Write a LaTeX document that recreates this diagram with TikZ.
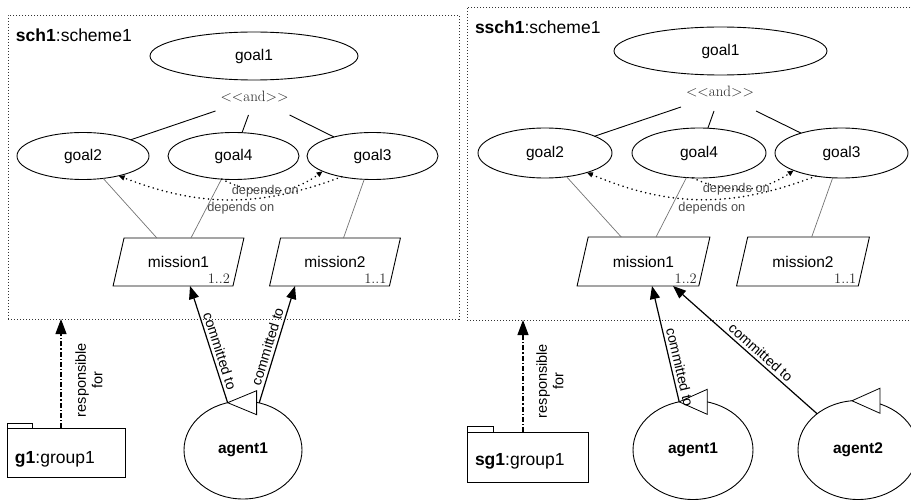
\documentclass[tikz,border=0pt]{standalone}
\usepackage{fontspec}
\setsansfont{Liberation Sans}
\usetikzlibrary{shapes.geometric,arrows.meta}

\begin{document}
\begin{tikzpicture}[x=1pt,y=-1pt,
  every node/.style={inner sep=0pt, outer sep=0pt},
  schbox/.style={draw=black!80, line width=0.9pt, dash pattern=on 1.1pt off 1.9pt, anchor=north west},
  titletxt/.style={anchor=west, font=\sffamily\fontsize{17.5}{20}\selectfont},
  goal/.style={ellipse, draw, line width=0.9pt, font=\sffamily\fontsize{15.5}{18}\selectfont},
  andtxt/.style={text=black!85, font=\fontsize{15}{17}\selectfont},
  andline/.style={line width=0.9pt},
  mline/.style={draw=black!55, line width=0.7pt},
  mission/.style={trapezium, trapezium left angle=61.6, trapezium right angle=118.4,
    trapezium stretches=true, draw, line width=0.9pt, minimum width=131pt, minimum height=48pt,
    font=\sffamily\fontsize{15.5}{18}\selectfont},
  card/.style={anchor=base east, text=black!85, font=\fontsize{14.5}{16}\selectfont},
  dep/.style={line width=1.7pt, dash pattern=on 0.1pt off 4.6pt, line cap=round,
    -{Triangle[length=6pt,width=5pt]}},
  deplbl/.style={text=black!70, font=\sffamily\fontsize{12.8}{15}\selectfont},
  pkg/.style={draw, line width=0.9pt},
  pkglbl/.style={anchor=west, font=\sffamily\fontsize{17.5}{20}\selectfont},
  resp/.style={line width=1.1pt, dash pattern=on 5pt off 2pt on 1.2pt off 2pt,
    -{Triangle[length=15pt,width=11pt]}},
  resplbl/.style={rotate=90, align=center, font=\sffamily\fontsize{14.5}{16.5}\selectfont},
  agent/.style={ellipse, draw, line width=0.9pt, font=\sffamily\bfseries\fontsize{15.5}{18}\selectfont},
  port/.style={draw, line width=0.8pt, fill=white},
  commit/.style={line width=1.2pt, -{Triangle[length=13pt,width=10pt]}},
  clbl/.style={sloped, above=3.5pt, font=\sffamily\fontsize{14}{16}\selectfont}
]
\clip (0,0) rectangle (911,500);

% ---------------- scheme sch1 ----------------
\node[schbox, minimum width=451pt, minimum height=304pt] (schL) at (8,15) {};
\node[titletxt] (schLtitle) at (16,35) {\textbf{sch1}:scheme1};

\node[goal, minimum width=208pt, minimum height=48pt] (g1L) at (254,56) {goal1};
\node[andtxt] (andL) at (254.5,97) {<\kern0pt<and>\kern0pt>};
\coordinate (andL1) at ([shift={(-39,14)}]andL.center);
\coordinate (andL2) at ([shift={(-6,18)}]andL.center);
\coordinate (andL3) at ([shift={(35,18)}]andL.center);

\node[goal, minimum width=132pt, minimum height=47pt] (g2L) at (83,156) {goal2};
\node[goal, minimum width=131pt, minimum height=47pt] (g4L) at (233.5,156) {goal4};
\node[goal, minimum width=131pt, minimum height=47pt] (g3L) at (372.5,156) {goal3};

\draw[andline] (andL1) -- (g2L);
\draw[andline] (andL2) -- (g4L);
\draw[andline] (andL3) -- (g3L);

\node[mission] (m1L) at (178.5,262) {mission1};
\node[mission] (m2L) at (335,262) {mission2};
\node[card] (m1Lcard) at ([shift={(-3,-2.5)}]m1L.bottom right corner) {1..2};
\node[card] (m2Lcard) at ([shift={(-3,-2.5)}]m2L.bottom right corner) {1..1};

\draw[mline] (g2L) -- (m1L);
\draw[mline] (g4L) -- (m1L);
\draw[mline] (g3L) -- (m2L);

\draw[dep] (g3L.214) to[bend left=21] node[pos=0.45, below=3pt, deplbl] {depends on} (g2L.-29);
\draw[dep] (g4L.243) to[bend right=32] node[pos=0.42, deplbl] {depends on} (g3L.197);

% ---------------- group g1 and agent ----------------
\node[pkg, minimum width=118pt, minimum height=49pt] (grpL) at (66,452.5) {};
\node[pkg, minimum width=25pt, minimum height=5pt, anchor=south west] (grpLtab) at (grpL.north west) {};
\node[pkglbl] (grpLlbl) at (15,459) {\textbf{g1}:group1};
\coordinate (respL) at ([xshift=-5pt]grpL.north);
\draw[resp] (respL) -- (respL |- schL.south);
\node[resplbl] (respLlbl) at (89,380) {responsible\\for};

\node[agent, minimum width=118pt, minimum height=98pt] (ag1L) at (243,450) {agent1};
\draw[port] (ag1L.108) -- ++(29,-12) -- ++(0,24) -- cycle;
\draw[commit] (ag1L.108) -- node[pos=0.42, clbl] {committed to} ([xshift=11.5pt]m1L.south);
\draw[commit] (ag1L.71) -- node[pos=0.46, clbl] {committed to} ([xshift=-40pt]m2L.south);

% ---------------- scheme ssch1 ----------------
\node[schbox, minimum width=470pt, minimum height=313pt] (schR) at (467,7) {};
\node[titletxt] (schRtitle) at (475,27) {\textbf{ssch1}:scheme1};

\node[goal, minimum width=213pt, minimum height=48pt] (g1R) at (720.5,51) {goal1};
\node[andtxt] (andR) at (720,92) {<\kern0pt<and>\kern0pt>};
\coordinate (andR1) at ([shift={(-39,15)}]andR.center);
\coordinate (andR2) at ([shift={(-6,19)}]andR.center);
\coordinate (andR3) at ([shift={(36,19)}]andR.center);

\node[goal, minimum width=134pt, minimum height=50pt] (g2R) at (545,153) {goal2};
\node[goal, minimum width=134pt, minimum height=50pt] (g4R) at (699,153) {goal4};
\node[goal, minimum width=133pt, minimum height=50pt] (g3R) at (841.5,153) {goal3};

\draw[andline] (andR1) -- (g2R);
\draw[andline] (andR2) -- (g4R);
\draw[andline] (andR3) -- (g3R);

\node[mission, minimum width=133pt, minimum height=49pt] (m1R) at (643.5,261.5) {mission1};
\node[mission, minimum width=133pt, minimum height=49pt] (m2R) at (803,261.5) {mission2};
\node[card] (m1Rcard) at ([shift={(-2,-2.5)}]m1R.bottom right corner) {1..2};
\node[card] (m2Rcard) at ([shift={(-2,-2.5)}]m2R.bottom right corner) {1..1};

\draw[mline] (g2R) -- (m1R);
\draw[mline] (g4R) -- (m1R);
\draw[mline] (g3R) -- (m2R);

\draw[dep] (g3R.222) to[bend left=22] node[pos=0.45, below=3pt, deplbl] {depends on} (g2R.-25);
\draw[dep] (g4R.256) to[bend right=30] node[pos=0.42, deplbl] {depends on} (g3R.200);

% ---------------- group sg1 and agents ----------------
\node[pkg, minimum width=121pt, minimum height=50pt] (grpR) at (527.5,457) {};
\node[pkg, minimum width=26pt, minimum height=6pt, anchor=south west] (grpRtab) at (grpR.north west) {};
\node[pkglbl] (grpRlbl) at (475,461) {\textbf{sg1}:group1};
\coordinate (respR) at ([xshift=-4.5pt]grpR.north);
\draw[resp] (respR) -- (respR |- schR.south);
\node[resplbl] (respRlbl) at (550,381) {responsible\\for};

\node[agent, minimum width=120pt, minimum height=99pt] (ag1R) at (693,450) {agent1};
\node[agent, minimum width=120pt, minimum height=99pt] (ag2R) at (858,450) {agent2};
\draw[port] (ag1R.106) -- ++(28,-12.5) -- ++(0,25) -- cycle;
\draw[port] (ag2R.97) -- ++(28,-12.5) -- ++(0,25) -- cycle;
\draw[commit] (ag1R.106) -- node[pos=0.28, clbl] {committed to} ([xshift=8.5pt]m1R.south);
\draw[commit] (ag2R) -- node[pos=0.43, clbl] {committed to} ([xshift=29.5pt]m1R.south);
\end{tikzpicture}
\end{document}
